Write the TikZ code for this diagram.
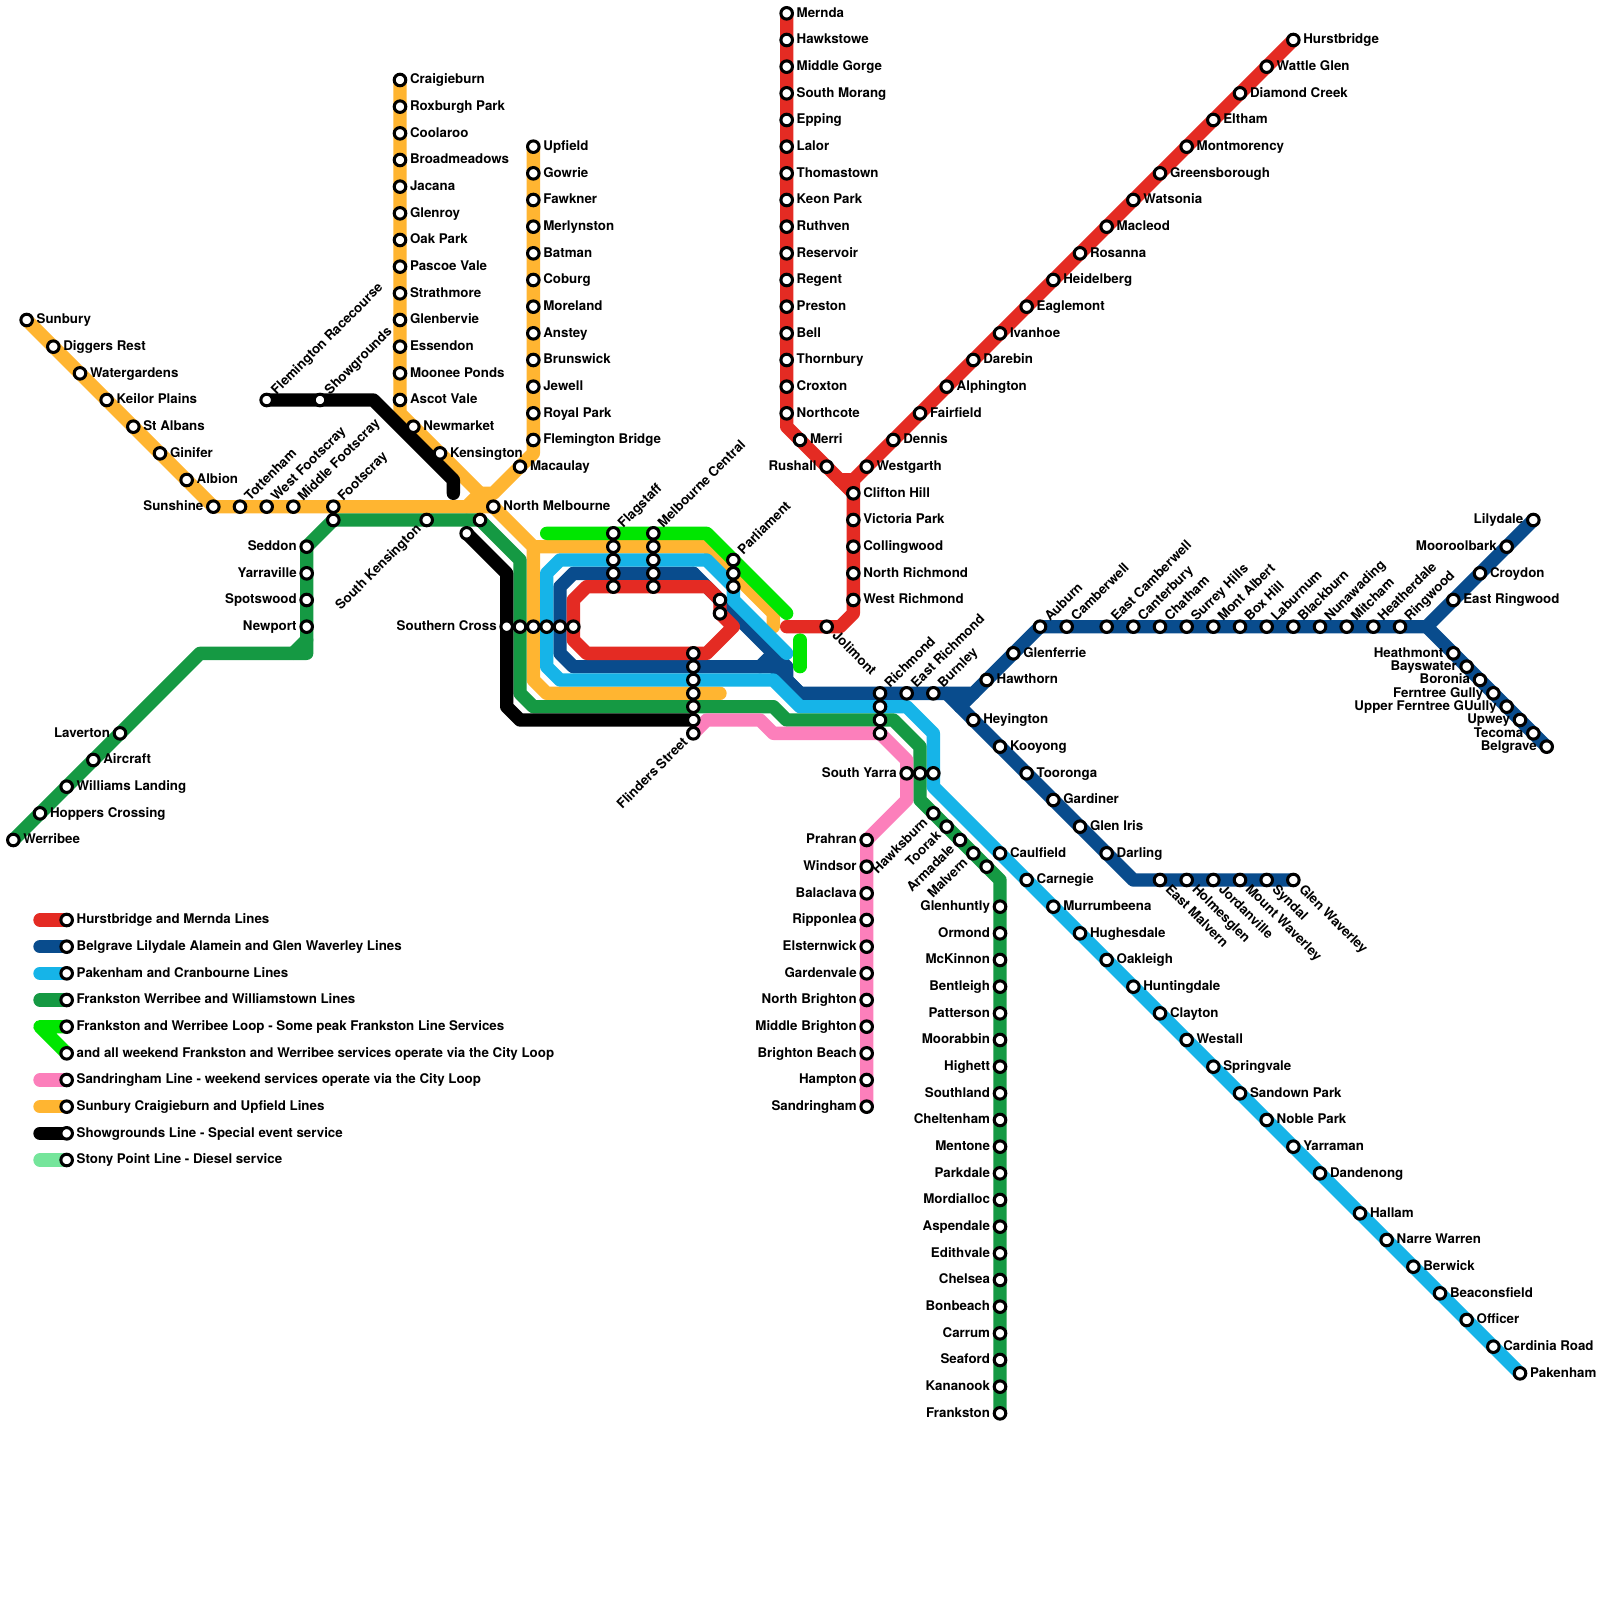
\documentclass[tikz,border=0pt]{standalone}
\usepackage{fontspec}
\setmainfont{TeX Gyre Heros}
\usetikzlibrary{calc}
\definecolor{cRed}{HTML}{E42B23}
\definecolor{cDark}{HTML}{094C8D}
\definecolor{cCyan}{HTML}{16B4E8}
\definecolor{cGreen}{HTML}{159943}
\definecolor{cLime}{HTML}{00E600}
\definecolor{cPink}{HTML}{FC7FBB}
\definecolor{cOrange}{HTML}{FFB531}
\definecolor{cStony}{HTML}{75E59B}
\pgfdeclarelayer{lines}
\pgfsetlayers{lines,main}
\tikzset{
  dot/.style={circle,draw=black,fill=white,line width=1.95pt,minimum size=7.4pt,inner sep=0pt,outer sep=0pt},
  lbl/.style={font=\fontsize{8.53pt}{10pt}\selectfont\bfseries,inner sep=0pt,outer sep=0pt,text height=6.1pt,text depth=0pt,text=black},
  rail/.style={line width=0.3cm,line cap=round,line join=round},
}
\newcommand{\labr}[2]{\node[lbl,anchor=west] (#1-t) at ($(#1)+(0.75,-0.06)$) {#2};}
\newcommand{\labl}[2]{\node[lbl,anchor=east] (#1-t) at ($(#1)+(-0.75,-0.06)$) {#2};}
\newcommand{\labne}[2]{\node[lbl,anchor=west,rotate=45] (#1-t) at ($(#1)+(0.5,-0.62)$) {#2};}
\newcommand{\labse}[2]{\node[lbl,anchor=west,rotate=-45] (#1-t) at ($(#1)+(0.62,0.5)$) {#2};}
\newcommand{\labsw}[2]{\node[lbl,anchor=east,rotate=45] (#1-t) at ($(#1)+(-0.62,0.5)$) {#2};}
\newcommand{\labn}[2]{}
\newcommand{\stn}[5]{\node[dot] (#1) at (#2,#3) {}; \csname lab#4\endcsname{#1}{#5}}
\newcommand{\bnd}[3]{\coordinate (#1) at (#2,#3);}
\begin{document}
\begin{tikzpicture}[x=0.3cm,y=-0.3cm]
\useasboundingbox (0,0) rectangle (120,120);
% Mernda
\stn{mernda}{59}{1}{r}{Mernda}
\stn{hawkstowe}{59}{3}{r}{Hawkstowe}
\stn{middlegorge}{59}{5}{r}{Middle Gorge}
\stn{southmorang}{59}{7}{r}{South Morang}
\stn{epping}{59}{9}{r}{Epping}
\stn{lalor}{59}{11}{r}{Lalor}
\stn{thomastown}{59}{13}{r}{Thomastown}
\stn{keonpark}{59}{15}{r}{Keon Park}
\stn{ruthven}{59}{17}{r}{Ruthven}
\stn{reservoir}{59}{19}{r}{Reservoir}
\stn{regent}{59}{21}{r}{Regent}
\stn{preston}{59}{23}{r}{Preston}
\stn{bell}{59}{25}{r}{Bell}
\stn{thornbury}{59}{27}{r}{Thornbury}
\stn{croxton}{59}{29}{r}{Croxton}
\stn{northcote}{59}{31}{r}{Northcote}
\stn{merri}{60}{33}{r}{Merri}
\stn{rushall}{62}{35}{l}{Rushall}
% Hurstbridge
\stn{hurstbridge}{97}{3}{r}{Hurstbridge}
\stn{wattleglen}{95}{5}{r}{Wattle Glen}
\stn{diamondcreek}{93}{7}{r}{Diamond Creek}
\stn{eltham}{91}{9}{r}{Eltham}
\stn{montmorency}{89}{11}{r}{Montmorency}
\stn{greensborough}{87}{13}{r}{Greensborough}
\stn{watsonia}{85}{15}{r}{Watsonia}
\stn{macleod}{83}{17}{r}{Macleod}
\stn{rosanna}{81}{19}{r}{Rosanna}
\stn{heidelberg}{79}{21}{r}{Heidelberg}
\stn{eaglemont}{77}{23}{r}{Eaglemont}
\stn{ivanhoe}{75}{25}{r}{Ivanhoe}
\stn{darebin}{73}{27}{r}{Darebin}
\stn{alphington}{71}{29}{r}{Alphington}
\stn{fairfield}{69}{31}{r}{Fairfield}
\stn{dennis}{67}{33}{r}{Dennis}
\stn{westgarth}{65}{35}{r}{Westgarth}
\stn{cliftonhill}{64}{37}{r}{Clifton Hill}
\stn{victoriapark}{64}{39}{r}{Victoria Park}
\stn{collingwood}{64}{41}{r}{Collingwood}
\stn{northrichmond}{64}{43}{r}{North Richmond}
\stn{westrichmond}{64}{45}{r}{West Richmond}
\stn{jolimont}{62}{47}{se}{Jolimont}
% Craigieburn
\stn{craigieburn}{30}{6}{r}{Craigieburn}
\stn{roxburghpark}{30}{8}{r}{Roxburgh Park}
\stn{coolaroo}{30}{10}{r}{Coolaroo}
\stn{broadmeadows}{30}{12}{r}{Broadmeadows}
\stn{jacana}{30}{14}{r}{Jacana}
\stn{glenroy}{30}{16}{r}{Glenroy}
\stn{oakpark}{30}{18}{r}{Oak Park}
\stn{pascoevale}{30}{20}{r}{Pascoe Vale}
\stn{strathmore}{30}{22}{r}{Strathmore}
\stn{glenbervie}{30}{24}{r}{Glenbervie}
\stn{essendon}{30}{26}{r}{Essendon}
\stn{mooneeponds}{30}{28}{r}{Moonee Ponds}
\stn{ascotvale}{30}{30}{r}{Ascot Vale}
\stn{newmarket}{31}{32}{r}{Newmarket}
\stn{kensington}{33}{34}{r}{Kensington}
% Upfield
\stn{upfield}{40}{11}{r}{Upfield}
\stn{gowrie}{40}{13}{r}{Gowrie}
\stn{fawkner}{40}{15}{r}{Fawkner}
\stn{merlynston}{40}{17}{r}{Merlynston}
\stn{batman}{40}{19}{r}{Batman}
\stn{coburg}{40}{21}{r}{Coburg}
\stn{moreland}{40}{23}{r}{Moreland}
\stn{anstey}{40}{25}{r}{Anstey}
\stn{brunswick}{40}{27}{r}{Brunswick}
\stn{jewell}{40}{29}{r}{Jewell}
\stn{royalpark}{40}{31}{r}{Royal Park}
\stn{flemingtonbridge}{40}{33}{r}{Flemington Bridge}
\stn{macaulay}{39}{35}{r}{Macaulay}
% Sunbury
\stn{sunbury}{2}{24}{r}{Sunbury}
\stn{diggersrest}{4}{26}{r}{Diggers Rest}
\stn{watergardens}{6}{28}{r}{Watergardens}
\stn{keilorplains}{8}{30}{r}{Keilor Plains}
\stn{stalbans}{10}{32}{r}{St Albans}
\stn{ginifer}{12}{34}{r}{Ginifer}
\stn{albion}{14}{36}{r}{Albion}
\stn{sunshine}{16}{38}{l}{Sunshine}
\stn{tottenham}{18}{38}{ne}{Tottenham}
\stn{westfootscray}{20}{38}{ne}{West Footscray}
\stn{middlefootscray}{22}{38}{ne}{Middle Footscray}
\stn{footscray}{25}{38}{ne}{Footscray}
\stn{footscrayb}{25}{39}{n}{}
\stn{southkensington}{32}{39}{sw}{South Kensington}
\stn{northmelbourne}{37}{38}{r}{North Melbourne}
\stn{northmelbourneb}{36}{39}{n}{}
\stn{northmelbournec}{35}{40}{n}{}
% Showgrounds
\stn{flemingtonrc}{20}{30}{ne}{Flemington Racecourse}
\stn{showgrounds}{24}{30}{ne}{Showgrounds}
% Williamstown / Werribee
\stn{seddon}{23}{41}{l}{Seddon}
\stn{yarraville}{23}{43}{l}{Yarraville}
\stn{spotswood}{23}{45}{l}{Spotswood}
\stn{newport}{23}{47}{l}{Newport}
\stn{laverton}{9}{55}{l}{Laverton}
\stn{aircraft}{7}{57}{r}{Aircraft}
\stn{williamslanding}{5}{59}{r}{Williams Landing}
\stn{hopperscrossing}{3}{61}{r}{Hoppers Crossing}
\stn{werribee}{1}{63}{r}{Werribee}
% City loop stacks
\stn{southerncross}{38}{47}{l}{Southern Cross}
\stn{scb}{39}{47}{n}{}
\stn{scc}{40}{47}{n}{}
\stn{scd}{41}{47}{n}{}
\stn{sce}{42}{47}{n}{}
\stn{scf}{43}{47}{n}{}
\stn{flagstaff}{46}{40}{ne}{Flagstaff}
\stn{fsb}{46}{41}{n}{}
\stn{fsc}{46}{42}{n}{}
\stn{fsd}{46}{43}{n}{}
\stn{fse}{46}{44}{n}{}
\stn{melbcentral}{49}{40}{ne}{Melbourne Central}
\stn{mcb}{49}{41}{n}{}
\stn{mcc}{49}{42}{n}{}
\stn{mcd}{49}{43}{n}{}
\stn{mce}{49}{44}{n}{}
\stn{parliament}{55}{42}{ne}{Parliament}
\stn{pab}{55}{43}{n}{}
\stn{pac}{55}{44}{n}{}
\stn{pad}{54}{45}{n}{}
\stn{pae}{54}{46}{n}{}
\stn{fla}{52}{49}{n}{}
\stn{flb}{52}{50}{n}{}
\stn{flc}{52}{51}{n}{}
\stn{fld}{52}{52}{n}{}
\stn{fle}{52}{53}{n}{}
\stn{flf}{52}{54}{n}{}
\stn{flindersst}{52}{55}{sw}{Flinders Street}
% Richmond
\stn{richmond}{66}{52}{ne}{Richmond}
\stn{rib}{66}{53}{n}{}
\stn{ric}{66}{54}{n}{}
\stn{rid}{66}{55}{n}{}
\stn{eastrichmond}{68}{52}{ne}{East Richmond}
\stn{burnley}{70}{52}{ne}{Burnley}
\stn{southyarra}{68}{58}{l}{South Yarra}
\stn{syb}{69}{58}{n}{}
\stn{syc}{70}{58}{n}{}
% Lilydale / Belgrave
\stn{hawthorn}{74}{51}{r}{Hawthorn}
\stn{glenferrie}{76}{49}{r}{Glenferrie}
\stn{auburn}{78}{47}{ne}{Auburn}
\stn{camberwell}{80}{47}{ne}{Camberwell}
\stn{eastcamberwell}{83}{47}{ne}{East Camberwell}
\stn{canterbury}{85}{47}{ne}{Canterbury}
\stn{chatham}{87}{47}{ne}{Chatham}
\stn{surreyhills}{89}{47}{ne}{Surrey Hills}
\stn{montalbert}{91}{47}{ne}{Mont Albert}
\stn{boxhill}{93}{47}{ne}{Box Hill}
\stn{laburnum}{95}{47}{ne}{Laburnum}
\stn{blackburn}{97}{47}{ne}{Blackburn}
\stn{nunawading}{99}{47}{ne}{Nunawading}
\stn{mitcham}{101}{47}{ne}{Mitcham}
\stn{heatherdale}{103}{47}{ne}{Heatherdale}
\stn{ringwood}{105}{47}{ne}{Ringwood}
\stn{eastringwood}{109}{45}{r}{East Ringwood}
\stn{croydon}{111}{43}{r}{Croydon}
\stn{mooroolbark}{113}{41}{l}{Mooroolbark}
\stn{lilydale}{115}{39}{l}{Lilydale}
\stn{heathmont}{109}{49}{l}{Heathmont}
\stn{bayswater}{110}{50}{l}{Bayswater}
\stn{boronia}{111}{51}{l}{Boronia}
\stn{ferntreegully}{112}{52}{l}{Ferntree Gully}
\stn{upperfg}{113}{53}{l}{Upper Ferntree GUully}
\stn{upwey}{114}{54}{l}{Upwey}
\stn{tecoma}{115}{55}{l}{Tecoma}
\stn{belgrave}{116}{56}{l}{Belgrave}
% Glen Waverley
\stn{heyington}{73}{54}{r}{Heyington}
\stn{kooyong}{75}{56}{r}{Kooyong}
\stn{tooronga}{77}{58}{r}{Tooronga}
\stn{gardiner}{79}{60}{r}{Gardiner}
\stn{gleniris}{81}{62}{r}{Glen Iris}
\stn{darling}{83}{64}{r}{Darling}
\stn{eastmalvern}{87}{66}{se}{East Malvern}
\stn{holmesglen}{89}{66}{se}{Holmesglen}
\stn{jordanville}{91}{66}{se}{Jordanville}
\stn{mountwaverley}{93}{66}{se}{Mount Waverley}
\stn{syndal}{95}{66}{se}{Syndal}
\stn{glenwaverley}{97}{66}{se}{Glen Waverley}
% Pakenham
\stn{caulfield}{75}{64}{r}{Caulfield}
\stn{carnegie}{77}{66}{r}{Carnegie}
\stn{murrumbeena}{79}{68}{r}{Murrumbeena}
\stn{hughesdale}{81}{70}{r}{Hughesdale}
\stn{oakleigh}{83}{72}{r}{Oakleigh}
\stn{huntingdale}{85}{74}{r}{Huntingdale}
\stn{clayton}{87}{76}{r}{Clayton}
\stn{westall}{89}{78}{r}{Westall}
\stn{springvale}{91}{80}{r}{Springvale}
\stn{sandownpark}{93}{82}{r}{Sandown Park}
\stn{noblepark}{95}{84}{r}{Noble Park}
\stn{yarraman}{97}{86}{r}{Yarraman}
\stn{dandenong}{99}{88}{r}{Dandenong}
\stn{hallam}{102}{91}{r}{Hallam}
\stn{narrewarren}{104}{93}{r}{Narre Warren}
\stn{berwick}{106}{95}{r}{Berwick}
\stn{beaconsfield}{108}{97}{r}{Beaconsfield}
\stn{officer}{110}{99}{r}{Officer}
\stn{cardiniaroad}{112}{101}{r}{Cardinia Road}
\stn{pakenham}{114}{103}{r}{Pakenham}
% Frankston
\stn{hawksburn}{70}{61}{sw}{Hawksburn}
\stn{toorak}{71}{62}{sw}{Toorak}
\stn{armadale}{72}{63}{sw}{Armadale}
\stn{malvern}{73}{64}{sw}{Malvern}
\stn{malvernb}{74}{65}{n}{}
\stn{glenhuntly}{75}{68}{l}{Glenhuntly}
\stn{ormond}{75}{70}{l}{Ormond}
\stn{mckinnon}{75}{72}{l}{McKinnon}
\stn{bentleigh}{75}{74}{l}{Bentleigh}
\stn{patterson}{75}{76}{l}{Patterson}
\stn{moorabbin}{75}{78}{l}{Moorabbin}
\stn{highett}{75}{80}{l}{Highett}
\stn{southland}{75}{82}{l}{Southland}
\stn{cheltenham}{75}{84}{l}{Cheltenham}
\stn{mentone}{75}{86}{l}{Mentone}
\stn{parkdale}{75}{88}{l}{Parkdale}
\stn{mordialloc}{75}{90}{l}{Mordialloc}
\stn{aspendale}{75}{92}{l}{Aspendale}
\stn{edithvale}{75}{94}{l}{Edithvale}
\stn{chelsea}{75}{96}{l}{Chelsea}
\stn{bonbeach}{75}{98}{l}{Bonbeach}
\stn{carrum}{75}{100}{l}{Carrum}
\stn{seaford}{75}{102}{l}{Seaford}
\stn{kananook}{75}{104}{l}{Kananook}
\stn{frankston}{75}{106}{l}{Frankston}
% Sandringham
\stn{prahran}{65}{63}{l}{Prahran}
\stn{windsor}{65}{65}{l}{Windsor}
\stn{balaclava}{65}{67}{l}{Balaclava}
\stn{ripponlea}{65}{69}{l}{Ripponlea}
\stn{elsternwick}{65}{71}{l}{Elsternwick}
\stn{gardenvale}{65}{73}{l}{Gardenvale}
\stn{northbrighton}{65}{75}{l}{North Brighton}
\stn{middlebrighton}{65}{77}{l}{Middle Brighton}
\stn{brightonbeach}{65}{79}{l}{Brighton Beach}
\stn{hampton}{65}{81}{l}{Hampton}
\stn{sandringham}{65}{83}{l}{Sandringham}
% Legend
\stn{lega}{5}{69}{r}{Hurstbridge and Mernda Lines}
\stn{legb}{5}{71}{r}{Belgrave Lilydale Alamein and Glen Waverley Lines}
\stn{legc}{5}{73}{r}{Pakenham and Cranbourne Lines}
\stn{legd}{5}{75}{r}{Frankston Werribee and Williamstown Lines}
\stn{lege}{5}{77}{r}{Frankston and Werribee Loop - Some peak Frankston Line Services}
\stn{legf}{5}{79}{r}{and all weekend Frankston and Werribee services operate via the City Loop}
\stn{legg}{5}{81}{r}{Sandringham Line - weekend services operate via the City Loop}
\stn{legh}{5}{83}{r}{Sunbury Craigieburn and Upfield Lines}
\stn{legi}{5}{85}{r}{Showgrounds Line - Special event service}
\stn{legj}{5}{87}{r}{Stony Point Line - Diesel service}
\bnd{sa}{3}{69}\bnd{sb}{3}{71}\bnd{sc}{3}{73}\bnd{sd}{3}{75}\bnd{se}{3}{77}
\bnd{sg}{3}{81}\bnd{sh}{3}{83}\bnd{si}{3}{85}\bnd{sj}{3}{87}
% Bends
\bnd{r1}{59}{32}\bnd{r2}{64}{37}\bnd{r3}{64}{36}\bnd{r4}{64}{46}\bnd{r5}{63}{47}\bnd{r6}{59}{47}\bnd{r7}{63}{36}
\bnd{rl1}{53}{49}\bnd{rl2}{55}{47}\bnd{rl3}{44}{49}\bnd{rl4}{43}{48}\bnd{rl5}{43}{45}\bnd{rl6}{44}{44}\bnd{rl7}{53}{44}
\bnd{o1}{37}{38}\bnd{o2}{40}{41}\bnd{o3}{40}{51}\bnd{o4}{41}{52}\bnd{o5}{54}{52}\bnd{o6}{53}{41}\bnd{o7}{58}{46}\bnd{o8}{58}{47}
\bnd{o9}{30}{31}\bnd{o10}{40}{34}\bnd{o11}{37}{37}\bnd{o12}{36}{37}\bnd{o13}{35}{38}
\bnd{d1}{43}{50}\bnd{d2}{42}{49}\bnd{d3}{42}{44}\bnd{d4}{43}{43}\bnd{d5}{52}{43}\bnd{d6}{59}{50}\bnd{d7}{59}{51}\bnd{d8}{60}{52}\bnd{d9}{57}{50}
\bnd{d10}{73}{52}\bnd{d11}{107}{47}\bnd{d12}{71}{52}\bnd{d13}{85}{66}\bnd{d14}{58}{49}\bnd{d15}{58}{50}\bnd{d16}{72}{53}
\bnd{c1}{42}{51}\bnd{c2}{41}{50}\bnd{c3}{41}{43}\bnd{c4}{42}{42}\bnd{c5}{53}{42}\bnd{c6}{55}{44}\bnd{c7}{55}{45}\bnd{c8}{59}{49}
\bnd{c9}{58}{51}\bnd{c10}{60}{53}\bnd{c11}{68}{53}\bnd{c12}{70}{55}\bnd{c13}{70}{59}
\bnd{g1}{36}{39}\bnd{g2}{39}{42}\bnd{g3}{39}{52}\bnd{g4}{40}{53}\bnd{g5}{58}{53}\bnd{g6}{59}{54}\bnd{g7}{67}{54}\bnd{g8}{69}{56}\bnd{g9}{69}{60}\bnd{g10}{75}{66}
\bnd{g11}{15}{49}\bnd{g12}{23}{49}\bnd{g13}{22}{49}\bnd{g14}{23}{48}
\bnd{l1}{41}{40}\bnd{l2}{53}{40}\bnd{l3}{59}{46}\bnd{l4}{60}{48}\bnd{l5}{60}{50}
\bnd{p1}{53}{54}\bnd{p2}{57}{54}\bnd{p3}{58}{55}\bnd{p4}{66}{55}\bnd{p5}{68}{57}\bnd{p6}{68}{60}
\bnd{k1}{28}{30}\bnd{k2}{34}{36}\bnd{k3}{34}{37}\bnd{k4}{38}{43}\bnd{k5}{38}{53}\bnd{k6}{39}{54}
\begin{pgfonlayer}{lines}
\fill[white] (0,0) rectangle (120,120);
% orange
\draw[rail,cOrange] (sunbury.center) -- (sunshine.center) -- (o1) -- (o2) -- (o3) -- (o4) -- (o5);
\draw[rail,cOrange] (o2) -- (o6) -- (o7) -- (o8);
\draw[rail,cOrange] (craigieburn.center) -- (o9) -- (o1);
\draw[rail,cOrange] (upfield.center) -- (o10) -- (o11) -- (o12) -- (o13);
\draw[rail,cOrange] (sh) -- (legh.center);
% dark blue
\draw[rail,cDark] (d5) -- (d6) -- (d7) -- (d8) -- (d10) -- (auburn.center) -- (d11) -- (lilydale.center);
\draw[rail,cDark] (d10) -- (d16);
\draw[rail,cDark] (d11) -- (belgrave.center);
\draw[rail,cDark] (d12) -- (d13) -- (glenwaverley.center);
\draw[rail,cDark] (d5) -- (d4) -- (d3) -- (d2) -- (d1) -- (d15) -- (d8);
\draw[rail,cDark] (d9) -- (d14);
\draw[rail,cDark] (sb) -- (legb.center);
% light blue
\draw[rail,cCyan] (c8) -- (c7) -- (c6) -- (c5) -- (c4) -- (c3) -- (c2) -- (c1) -- (c9) -- (c10) -- (c11) -- (c12) -- (c13) -- (pakenham.center);
\draw[rail,cCyan] (sc) -- (legc.center);
% green
\draw[rail,cGreen] (footscrayb.center) -- (g1) -- (g2) -- (g3) -- (g4) -- (g5) -- (g6) -- (g7) -- (g8) -- (g9) -- (g10) -- (frankston.center);
\draw[rail,cGreen] (footscrayb.center) -- (seddon.center) -- (g12) -- (g11) -- (werribee.center);
\draw[rail,cGreen] (g13) -- (g14);
\draw[rail,cGreen] (sd) -- (legd.center);
% lime
\draw[rail,cLime] (l1) -- (l2) -- (l3);
\draw[rail,cLime] (l4) -- (l5);
\draw[rail,cLime] (lege.center) -- (se) -- (legf.center);
% pink
\draw[rail,cPink] (flindersst.center) -- (p1) -- (p2) -- (p3) -- (p4) -- (p5) -- (p6) -- (prahran.center) -- (sandringham.center);
\draw[rail,cPink] (sg) -- (legg.center);
% stony
\draw[rail,cStony] (sj) -- (legj.center);
% black
\draw[rail,black] (flemingtonrc.center) -- (k1) -- (k2) -- (k3);
\draw[rail,black] (northmelbournec.center) -- (k4) -- (k5) -- (k6) -- (flf.center);
\draw[rail,black] (si) -- (legi.center);
% red
\draw[rail,cRed] (mernda.center) -- (r1) -- (r2) -- (r3) -- (hurstbridge.center);
\draw[rail,cRed] (r7) -- (r3);
\draw[rail,cRed] (r2) -- (r4) -- (r5) -- (r6);
\draw[rail,cRed] (fla.center) -- (rl1) -- (rl2) -- (pae.center) -- (pad.center) -- (rl7) -- (rl6) -- (rl5) -- (rl4) -- (rl3) -- (fla.center);
\draw[rail,cRed] (sa) -- (lega.center);
\end{pgfonlayer}
\end{tikzpicture}
\end{document}
